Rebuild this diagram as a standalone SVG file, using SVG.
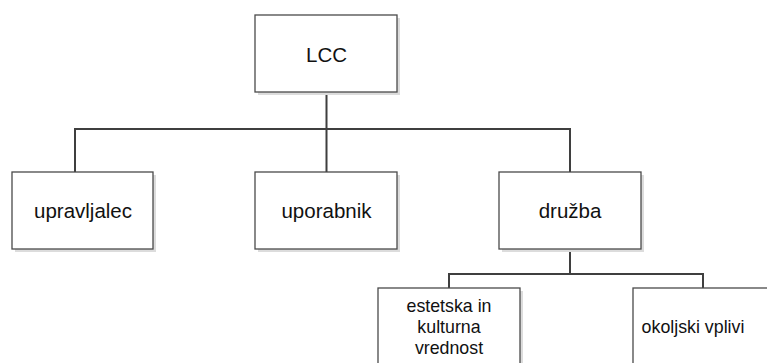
<svg xmlns="http://www.w3.org/2000/svg" width="767" height="363" viewBox="0 0 767 363">
  <style>
    .shadow { fill: #dcdcdc; }
    .box { fill: #ffffff; stroke: #4a4a4a; stroke-width: 1.3; }
    .lbl { font-family: "Liberation Sans", Arial, sans-serif; font-size: 20.5px; fill: #111111; text-anchor: middle; }
    .lbl-s { font-family: "Liberation Sans", Arial, sans-serif; font-size: 17.8px; fill: #111111; text-anchor: middle; }
    .wire { fill: none; stroke: #3f3f3f; stroke-width: 2; }
  </style>

  <g id="connectors">
    <path class="wire" d="M326.5 92 V129 M75 172 V129 H570 V172 M326.5 129 V172"/>
    <path class="wire" d="M570 249 V274 M449 288 V274 H703 V288"/>
  </g>

  <g id="node-lcc">
    <rect class="shadow" x="258" y="18" width="142" height="77"/>
    <rect class="box" x="255" y="15" width="142" height="77"/>
    <text class="lbl" x="326.5" y="62">LCC</text>
  </g>

  <g id="node-upravljalec">
    <rect class="shadow" x="15" y="175" width="141" height="77"/>
    <rect class="box" x="12" y="172" width="141" height="77"/>
    <text class="lbl" x="83" y="218">upravljalec</text>
  </g>

  <g id="node-uporabnik">
    <rect class="shadow" x="258" y="175" width="142" height="77"/>
    <rect class="box" x="255" y="172" width="142" height="77"/>
    <text class="lbl" x="326.5" y="218">uporabnik</text>
  </g>

  <g id="node-druzba">
    <rect class="shadow" x="502" y="175" width="142" height="77"/>
    <rect class="box" x="499" y="172" width="142" height="77"/>
    <text class="lbl" x="570" y="218">družba</text>
  </g>

  <g id="node-estetska">
    <rect class="shadow" x="381" y="291" width="142" height="80"/>
    <rect class="box" x="378" y="288" width="142" height="80"/>
    <text class="lbl-s" x="449" y="312">estetska in</text>
    <text class="lbl-s" x="449" y="333">kulturna</text>
    <text class="lbl-s" x="449" y="354">vrednost</text>
  </g>

  <g id="node-okoljski">
    <rect class="shadow" x="636" y="291" width="142" height="80"/>
    <rect class="box" x="633" y="288" width="142" height="80"/>
    <text class="lbl-s" x="693" y="333">okoljski vplivi</text>
  </g>
</svg>
